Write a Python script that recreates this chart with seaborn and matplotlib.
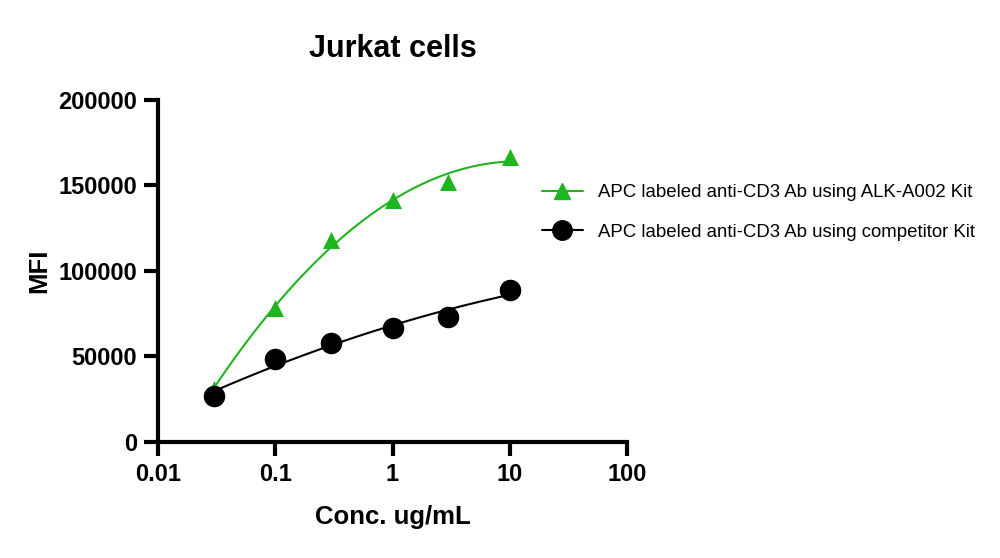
import numpy as np
import pandas as pd
import matplotlib
matplotlib.use("Agg")
import matplotlib.pyplot as plt
from matplotlib.lines import Line2D
import seaborn as sns

conc = [0.03, 0.1, 0.3, 1, 3, 10]
alk_mfi = [31000, 78500, 118000, 141500, 152000, 166500]
comp_mfi = [27000, 48500, 58000, 66800, 73200, 88800]
series_names = ["APC labeled anti-CD3 Ab using ALK-A002 Kit",
                "APC labeled anti-CD3 Ab using competitor Kit"]
x_ticks = [0.01, 0.1, 1, 10, 100]
x_tick_labels = ["0.01", "0.1", "1", "10", "100"]
y_ticks = [0, 50000, 100000, 150000, 200000]

sns.set_style("ticks")
plt.rcParams['font.family'] = ['Liberation Sans', 'DejaVu Sans']
plt.rcParams.update({"text.color": "black", "axes.labelcolor": "black",
                     "xtick.color": "black", "ytick.color": "black",
                     "axes.edgecolor": "black"})

fig = plt.figure(figsize=(10, 5.58), dpi=100)
ax = fig.add_axes([0.158, 0.208, 0.469, 0.613])

green = "#1fb51f"
black = "#000000"

# smooth fitted curves (quadratic in log10 conc)
lx = np.log10(conc)
xs = np.logspace(np.log10(conc[0]), np.log10(conc[-1]), 200)
fits = []
for vals in (alk_mfi, comp_mfi):
    p = np.polyfit(lx, vals, 2)
    fits.append(np.polyval(p, np.log10(xs)))

curve_df = pd.DataFrame({"x": np.concatenate([xs, xs]),
                         "y": np.concatenate(fits),
                         "s": [series_names[0]] * len(xs) + [series_names[1]] * len(xs)})
pts_df = pd.DataFrame({"x": conc + conc, "y": alk_mfi + comp_mfi,
                       "s": [series_names[0]] * 6 + [series_names[1]] * 6})

pal = {series_names[0]: green, series_names[1]: black}
sns.lineplot(data=curve_df, x="x", y="y", hue="s", palette=pal, ax=ax,
             linewidth=1.5, legend=False, zorder=2)
sns.scatterplot(data=pts_df[pts_df.s == series_names[0]], x="x", y="y", color=green,
                marker="^", s=150, edgecolor=green, linewidth=0, ax=ax, legend=False, zorder=3)
sns.scatterplot(data=pts_df[pts_df.s == series_names[1]], x="x", y="y", color=black,
                marker="o", s=240, edgecolor=black, linewidth=0, ax=ax, legend=False, zorder=3)

ax.set_xscale("log")
ax.set_xlim(0.01, 100)
ax.set_ylim(0, 200000)
ax.set_xticks(x_ticks)
ax.set_xticklabels(x_tick_labels)
ax.xaxis.set_minor_locator(matplotlib.ticker.NullLocator())
ax.set_yticks(y_ticks)
ax.set_yticklabels([str(v) for v in y_ticks])

for side in ("top", "right"):
    ax.spines[side].set_visible(False)
for side in ("left", "bottom"):
    ax.spines[side].set_linewidth(3)
ax.tick_params(axis="both", which="major", direction="out", length=10, width=3,
               labelsize=17, pad=5)
for lab in ax.get_xticklabels() + ax.get_yticklabels():
    lab.set_fontweight("bold")

ax.set_xlabel("Conc. ug/mL", fontsize=18.5, fontweight="bold", labelpad=14)
ax.set_ylabel("MFI", fontsize=18.5, fontweight="bold", labelpad=5)
ax.set_title("Jurkat cells", fontsize=22, fontweight="bold", pad=31)

handles = [Line2D([], [], color=green, marker="^", markersize=11, linewidth=1.5),
           Line2D([], [], color=black, marker="o", markersize=14, linewidth=1.5)]
fig.legend(handles, series_names, loc="upper left", bbox_to_anchor=(0.525, 0.70),
           frameon=False, fontsize=13.4, handlelength=2.2, labelspacing=1.2,
           handletextpad=0.8)

fig.savefig("out.png", dpi=100)
